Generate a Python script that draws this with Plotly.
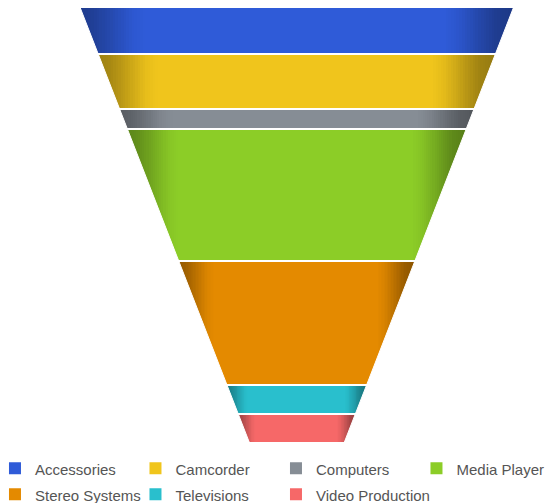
import numpy as np
import plotly.graph_objects as go

# ---------------- data ----------------
categories = ["Accessories", "Camcorder", "Computers", "Media Player",
              "Stereo Systems", "Televisions", "Video Production"]
values = [23, 27.5, 10, 66, 62, 14.5, 14]
colors = ["#2f5bd8", "#f0c51c", "#868d95", "#8ccd27",
          "#e48a00", "#29bfcd", "#f66868"]

# ---------------- style ----------------
TOP_W = 1.0          # funnel width at the top (x units)
BOT_W = 0.22         # funnel width at the bottom (x units)
shade_u = [0.0, 0.03, 0.06, 0.09, 0.12, 0.15, 0.84, 0.87, 0.90, 0.93, 0.96, 1.0]
shade_f = [0.66, 0.70, 0.78, 0.87, 0.96, 1.0, 1.0, 0.95, 0.86, 0.76, 0.67, 0.62]
N_STRIPS = 160
FMIN, FMAX = 0.5, 1.0

total = float(sum(values))
cum = np.concatenate([[0.0], np.cumsum(values)])


def half(y):
    return 0.5 * (TOP_W + (BOT_W - TOP_W) * y / total)


def hex2rgb(h):
    h = h.lstrip("#")
    return np.array([int(h[i:i + 2], 16) for i in (0, 2, 4)], dtype=float)


def make_scale(base):
    rgb = hex2rgb(base)
    stops = []
    for f in np.linspace(FMIN, FMAX, 11):
        c = np.clip(rgb * f, 0, 255).astype(int)
        stops.append([(f - FMIN) / (FMAX - FMIN), f"rgb({c[0]},{c[1]},{c[2]})"])
    return stops


fig = go.Figure()

# shaded segments (heatmaps clipped later by masks)
for i, (cat, col) in enumerate(zip(categories, colors)):
    y0, y1 = cum[i], cum[i + 1]
    h0 = half(y0)
    xe = np.linspace(-h0, h0, N_STRIPS + 1)
    uc = (np.arange(N_STRIPS) + 0.5) / N_STRIPS
    z = np.interp(uc, shade_u, shade_f)
    fig.add_trace(go.Heatmap(
        x=xe, y=[y0, y1], z=[z.tolist()],
        colorscale=make_scale(col), zmin=FMIN, zmax=FMAX,
        showscale=False, hoverinfo="skip", name=cat))

# white masks outside the funnel sides
xmin = -296.8 / 433.0 * TOP_W
xmax = (558 - 296.8) / 433.0 * TOP_W
for s in (-1, 1):
    far = s * 5
    fig.add_trace(go.Scatter(
        x=[s * half(0), s * half(total), far, far, s * half(0)],
        y=[0, total, total, 0, 0],
        fill="toself", fillcolor="white", mode="lines",
        line=dict(color="white", width=1.0),
        hoverinfo="skip", showlegend=False))

# white separators between segments
for k in range(1, len(values)):
    yk = cum[k]
    fig.add_trace(go.Scatter(
        x=[-half(yk) - 0.02, half(yk) + 0.02], y=[yk, yk],
        mode="lines", line=dict(color="white", width=2),
        hoverinfo="skip", showlegend=False))

# legend entries
for cat, col in zip(categories, colors):
    fig.add_trace(go.Scatter(
        x=[None], y=[None], mode="markers",
        name=f'<span style="font-size:15px">{cat}</span>',
        marker=dict(symbol="square", size=12, color=col),
        hoverinfo="skip"))

fig.update_layout(
    width=558, height=503,
    margin=dict(l=0, r=0, t=8, b=61, autoexpand=False),
    paper_bgcolor="white", plot_bgcolor="white",
    xaxis=dict(visible=False, range=[xmin, xmax], fixedrange=True),
    yaxis=dict(visible=False, range=[total, 0], fixedrange=True),
    showlegend=True,
    legend=dict(orientation="h", x=-0.009, xanchor="left",
                y=-0.019, yanchor="top",
                entrywidth=95.5, entrywidthmode="pixels",
                font=dict(family="Liberation Sans, Arial", size=17.7, color="#555555"),
                bgcolor="rgba(0,0,0,0)"),
)

fig.write_html("out.html", config={"displayModeBar": False},
               post_script="document.body.style.margin='0px';")
